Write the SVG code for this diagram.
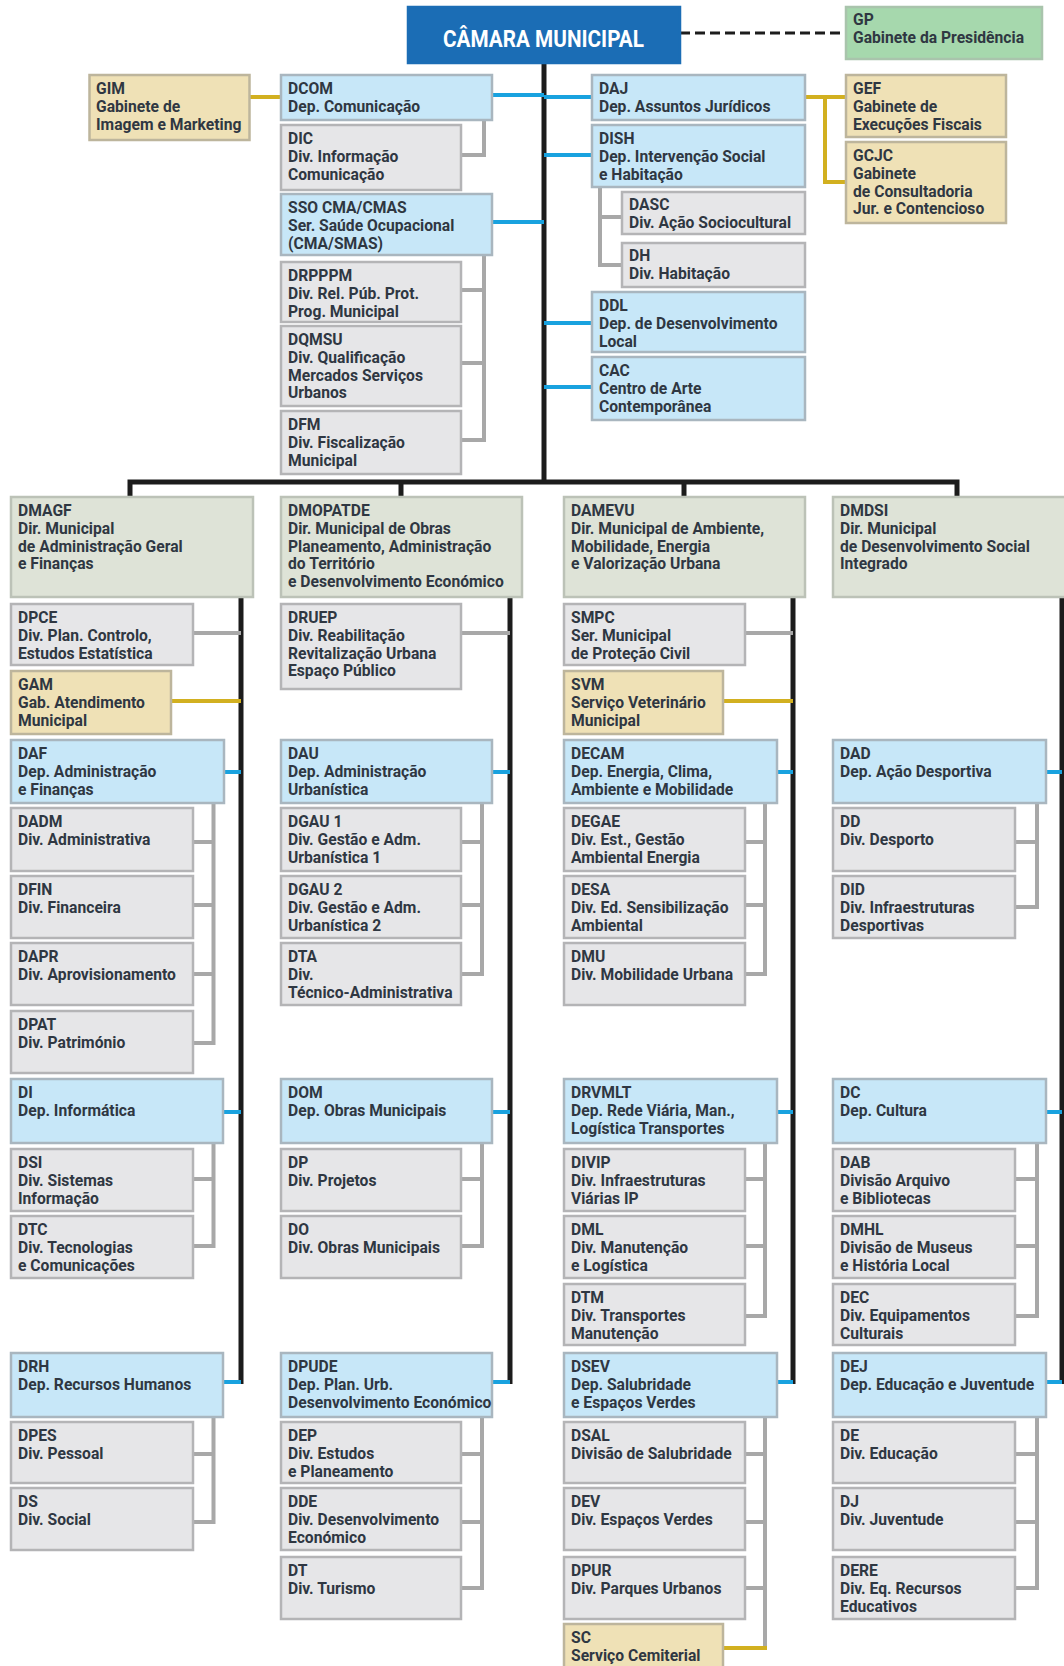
<svg xmlns="http://www.w3.org/2000/svg" width="1064" height="1666" viewBox="0 0 1064 1666">
<style>
rect{stroke-width:2.5}
.b{fill:#c7e7f8;stroke:#a9b6bf}
.g{fill:#e6e6e8;stroke:#b4b4b6}
.y{fill:#efe1b6;stroke:#bdb59c}
.d{fill:#dee3d7;stroke:#bcc2b7}
.p{fill:#a6d8ad;stroke:#a9c4ac}
.t{font-family:Roboto,"Liberation Sans",sans-serif;font-size:16.5px;font-weight:700;fill:#2f3742;transform-box:fill-box;transform-origin:0 50%;transform:scaleX(0.95)}
.k{fill:none;stroke:#1c1c1c;stroke-width:5}
.bl{fill:none;stroke:#19a2df;stroke-width:4}
.gr{fill:none;stroke:#a8a8a8;stroke-width:4}
.au{fill:none;stroke:#d2b020;stroke-width:4}
</style>
<rect width="1064" height="1666" fill="#ffffff"/>
<g id="connectors">
<path class="k" d="M544 63V482M130 497V482H957V497M401 482V497M684 482V497M241 597V1384M510 597V1384M793 597V1384M1062 597V1384"/>
<path d="M680 33H846" fill="none" stroke="#1c1c1c" stroke-width="3" stroke-dasharray="10 5"/>
<path class="bl" d="M492 95H544M492 222H544M544 97H592M544 155H592M544 323H592M544 387H592M224 772H241M223 1112H241M223 1382H241M492 772H510M492 1112H510M492 1382H510M777 772H793M777 1112H793M777 1382H793M1046 772H1062M1046 1112H1062M1046 1382H1062"/>
<path class="gr" d="M484 120V155H461M484 255V440H461M461 290H484M461 363H484M600 187V265H622M600 217H622M193 633H241M461 633H510M745 633H793M213.5 803V1043H193M193 842H213.5M193 905H213.5M193 974H213.5M482 803V974H461M461 842H482M461 905H482M765 803V974H745M745 842H765M745 905H765M1037 803V907H1015M1015 842H1037M213.5 1143V1246H193M193 1179H213.5M482 1143V1246H461M461 1179H482M765 1143V1316H745M745 1179H765M745 1246H765M1037 1143V1316H1015M1015 1179H1037M1015 1246H1037M213.5 1417V1522H193M193 1454H213.5M482 1417V1588H461M461 1454H482M461 1522H482M765 1417V1648M745 1454H765M745 1522H765M745 1588H765M1037 1417V1588H1015M1015 1454H1037M1015 1522H1037"/>
<path class="au" d="M250 97H281M805 97H846M825 97V182H846M171 701H241M723 701H793M723 1648H767"/>
</g>
<g id="CAMARA"><rect x="408" y="7" width="272" height="56" fill="#1b6db5" stroke="#1b6db5"/><text x="443" y="47" textLength="201" lengthAdjust="spacingAndGlyphs" font-family="Roboto,'Liberation Sans',sans-serif" font-size="24" font-weight="700" fill="#ffffff">CÂMARA MUNICIPAL</text></g>
<g id="GP"><rect class="p" x="846" y="7" width="196" height="52"/><text class="t" x="853" y="25"><tspan x="853">GP</tspan><tspan x="853" dy="17.8">Gabinete da Presidência</tspan></text></g>
<g id="GIM"><rect class="y" x="89.5" y="75" width="160" height="65"/><text class="t" x="96" y="94"><tspan x="96">GIM</tspan><tspan x="96" dy="17.8">Gabinete de</tspan><tspan x="96" dy="17.8">Imagem e Marketing</tspan></text></g>
<g id="DCOM"><rect class="b" x="281" y="75" width="211" height="45"/><text class="t" x="288" y="94"><tspan x="288">DCOM</tspan><tspan x="288" dy="17.8">Dep. Comunicação</tspan></text></g>
<g id="DIC"><rect class="g" x="281" y="125" width="180" height="65"/><text class="t" x="288" y="144"><tspan x="288">DIC</tspan><tspan x="288" dy="17.8">Div. Informação</tspan><tspan x="288" dy="17.8">Comunicação</tspan></text></g>
<g id="SSO"><rect class="b" x="281" y="194" width="211" height="61"/><text class="t" x="288" y="213"><tspan x="288">SSO CMA/CMAS</tspan><tspan x="288" dy="17.8">Ser. Saúde Ocupacional</tspan><tspan x="288" dy="17.8">(CMA/SMAS)</tspan></text></g>
<g id="DRPPPM"><rect class="g" x="281" y="262" width="180" height="60"/><text class="t" x="288" y="281"><tspan x="288">DRPPPM</tspan><tspan x="288" dy="17.8">Div. Rel. Púb. Prot.</tspan><tspan x="288" dy="17.8">Prog. Municipal</tspan></text></g>
<g id="DQMSU"><rect class="g" x="281" y="326" width="180" height="80"/><text class="t" x="288" y="345"><tspan x="288">DQMSU</tspan><tspan x="288" dy="17.8">Div. Qualificação</tspan><tspan x="288" dy="17.8">Mercados Serviços</tspan><tspan x="288" dy="17.8">Urbanos</tspan></text></g>
<g id="DFM"><rect class="g" x="281" y="411" width="180" height="63"/><text class="t" x="288" y="430"><tspan x="288">DFM</tspan><tspan x="288" dy="17.8">Div. Fiscalização</tspan><tspan x="288" dy="17.8">Municipal</tspan></text></g>
<g id="DAJ"><rect class="b" x="592" y="75" width="213" height="45"/><text class="t" x="599" y="94"><tspan x="599">DAJ</tspan><tspan x="599" dy="17.8">Dep. Assuntos Jurídicos</tspan></text></g>
<g id="DISH"><rect class="b" x="592" y="125" width="213" height="62"/><text class="t" x="599" y="144"><tspan x="599">DISH</tspan><tspan x="599" dy="17.8">Dep. Intervenção Social</tspan><tspan x="599" dy="17.8">e Habitação</tspan></text></g>
<g id="DASC"><rect class="g" x="622" y="192" width="183" height="42"/><text class="t" x="629" y="210"><tspan x="629">DASC</tspan><tspan x="629" dy="17.8">Div. Ação Sociocultural</tspan></text></g>
<g id="DH"><rect class="g" x="622" y="243" width="183" height="44"/><text class="t" x="629" y="261"><tspan x="629">DH</tspan><tspan x="629" dy="17.8">Div. Habitação</tspan></text></g>
<g id="DDL"><rect class="b" x="592" y="292" width="213" height="60"/><text class="t" x="599" y="311"><tspan x="599">DDL</tspan><tspan x="599" dy="17.8">Dep. de Desenvolvimento</tspan><tspan x="599" dy="17.8">Local</tspan></text></g>
<g id="CAC"><rect class="b" x="592" y="357" width="213" height="63"/><text class="t" x="599" y="376"><tspan x="599">CAC</tspan><tspan x="599" dy="17.8">Centro de Arte</tspan><tspan x="599" dy="17.8">Contemporânea</tspan></text></g>
<g id="GEF"><rect class="y" x="846" y="75" width="160" height="62"/><text class="t" x="853" y="94"><tspan x="853">GEF</tspan><tspan x="853" dy="17.8">Gabinete de</tspan><tspan x="853" dy="17.8">Execuções Fiscais</tspan></text></g>
<g id="GCJC"><rect class="y" x="846" y="142" width="160" height="81"/><text class="t" x="853" y="161"><tspan x="853">GCJC</tspan><tspan x="853" dy="17.8">Gabinete</tspan><tspan x="853" dy="17.8">de Consultadoria</tspan><tspan x="853" dy="17.8">Jur. e Contencioso</tspan></text></g>
<g id="DMAGF"><rect class="d" x="11" y="497" width="242" height="100"/><text class="t" x="18" y="516"><tspan x="18">DMAGF</tspan><tspan x="18" dy="17.8">Dir. Municipal</tspan><tspan x="18" dy="17.8">de Administração Geral</tspan><tspan x="18" dy="17.8">e Finanças</tspan></text></g>
<g id="DPCE"><rect class="g" x="11" y="604" width="182" height="61"/><text class="t" x="18" y="623"><tspan x="18">DPCE</tspan><tspan x="18" dy="17.8">Div. Plan. Controlo,</tspan><tspan x="18" dy="17.8">Estudos Estatística</tspan></text></g>
<g id="GAM"><rect class="y" x="11" y="671" width="160" height="63"/><text class="t" x="18" y="690"><tspan x="18">GAM</tspan><tspan x="18" dy="17.8">Gab. Atendimento</tspan><tspan x="18" dy="17.8">Municipal</tspan></text></g>
<g id="DAF"><rect class="b" x="11" y="740" width="213" height="63"/><text class="t" x="18" y="759"><tspan x="18">DAF</tspan><tspan x="18" dy="17.8">Dep. Administração</tspan><tspan x="18" dy="17.8">e Finanças</tspan></text></g>
<g id="DADM"><rect class="g" x="11" y="808" width="182" height="63"/><text class="t" x="18" y="827"><tspan x="18">DADM</tspan><tspan x="18" dy="17.8">Div. Administrativa</tspan></text></g>
<g id="DFIN"><rect class="g" x="11" y="876" width="182" height="62"/><text class="t" x="18" y="895"><tspan x="18">DFIN</tspan><tspan x="18" dy="17.8">Div. Financeira</tspan></text></g>
<g id="DAPR"><rect class="g" x="11" y="943" width="182" height="62"/><text class="t" x="18" y="962"><tspan x="18">DAPR</tspan><tspan x="18" dy="17.8">Div. Aprovisionamento</tspan></text></g>
<g id="DPAT"><rect class="g" x="11" y="1011" width="182" height="62"/><text class="t" x="18" y="1030"><tspan x="18">DPAT</tspan><tspan x="18" dy="17.8">Div. Património</tspan></text></g>
<g id="DI"><rect class="b" x="11" y="1079" width="212" height="64"/><text class="t" x="18" y="1098"><tspan x="18">DI</tspan><tspan x="18" dy="17.8">Dep. Informática</tspan></text></g>
<g id="DSI"><rect class="g" x="11" y="1149" width="182" height="62"/><text class="t" x="18" y="1168"><tspan x="18">DSI</tspan><tspan x="18" dy="17.8">Div. Sistemas</tspan><tspan x="18" dy="17.8">Informação</tspan></text></g>
<g id="DTC"><rect class="g" x="11" y="1216" width="182" height="62"/><text class="t" x="18" y="1235"><tspan x="18">DTC</tspan><tspan x="18" dy="17.8">Div. Tecnologias</tspan><tspan x="18" dy="17.8">e Comunicações</tspan></text></g>
<g id="DRH"><rect class="b" x="11" y="1353" width="212" height="64"/><text class="t" x="18" y="1372"><tspan x="18">DRH</tspan><tspan x="18" dy="17.8">Dep. Recursos Humanos</tspan></text></g>
<g id="DPES"><rect class="g" x="11" y="1422" width="182" height="61"/><text class="t" x="18" y="1441"><tspan x="18">DPES</tspan><tspan x="18" dy="17.8">Div. Pessoal</tspan></text></g>
<g id="DS"><rect class="g" x="11" y="1488" width="182" height="62"/><text class="t" x="18" y="1507"><tspan x="18">DS</tspan><tspan x="18" dy="17.8">Div. Social</tspan></text></g>
<g id="DMOPATDE"><rect class="d" x="281" y="497" width="241" height="100"/><text class="t" x="288" y="516"><tspan x="288">DMOPATDE</tspan><tspan x="288" dy="17.8">Dir. Municipal de Obras</tspan><tspan x="288" dy="17.8">Planeamento, Administração</tspan><tspan x="288" dy="17.8">do Território</tspan><tspan x="288" dy="17.8">e Desenvolvimento Económico</tspan></text></g>
<g id="DRUEP"><rect class="g" x="281" y="604" width="180" height="85"/><text class="t" x="288" y="623"><tspan x="288">DRUEP</tspan><tspan x="288" dy="17.8">Div. Reabilitação</tspan><tspan x="288" dy="17.8">Revitalização Urbana</tspan><tspan x="288" dy="17.8">Espaço Público</tspan></text></g>
<g id="DAU"><rect class="b" x="281" y="740" width="211" height="63"/><text class="t" x="288" y="759"><tspan x="288">DAU</tspan><tspan x="288" dy="17.8">Dep. Administração</tspan><tspan x="288" dy="17.8">Urbanística</tspan></text></g>
<g id="DGAU1"><rect class="g" x="281" y="808" width="180" height="63"/><text class="t" x="288" y="827"><tspan x="288">DGAU 1</tspan><tspan x="288" dy="17.8">Div. Gestão e Adm.</tspan><tspan x="288" dy="17.8">Urbanística 1</tspan></text></g>
<g id="DGAU2"><rect class="g" x="281" y="876" width="180" height="62"/><text class="t" x="288" y="895"><tspan x="288">DGAU 2</tspan><tspan x="288" dy="17.8">Div. Gestão e Adm.</tspan><tspan x="288" dy="17.8">Urbanística 2</tspan></text></g>
<g id="DTA"><rect class="g" x="281" y="943" width="180" height="62"/><text class="t" x="288" y="962"><tspan x="288">DTA</tspan><tspan x="288" dy="17.8">Div.</tspan><tspan x="288" dy="17.8">Técnico-Administrativa</tspan></text></g>
<g id="DOM"><rect class="b" x="281" y="1079" width="211" height="64"/><text class="t" x="288" y="1098"><tspan x="288">DOM</tspan><tspan x="288" dy="17.8">Dep. Obras Municipais</tspan></text></g>
<g id="DP"><rect class="g" x="281" y="1149" width="180" height="62"/><text class="t" x="288" y="1168"><tspan x="288">DP</tspan><tspan x="288" dy="17.8">Div. Projetos</tspan></text></g>
<g id="DO"><rect class="g" x="281" y="1216" width="180" height="62"/><text class="t" x="288" y="1235"><tspan x="288">DO</tspan><tspan x="288" dy="17.8">Div. Obras Municipais</tspan></text></g>
<g id="DPUDE"><rect class="b" x="281" y="1353" width="211" height="64"/><text class="t" x="288" y="1372"><tspan x="288">DPUDE</tspan><tspan x="288" dy="17.8">Dep. Plan. Urb.</tspan><tspan x="288" dy="17.8">Desenvolvimento Económico</tspan></text></g>
<g id="DEP"><rect class="g" x="281" y="1422" width="180" height="61"/><text class="t" x="288" y="1441"><tspan x="288">DEP</tspan><tspan x="288" dy="17.8">Div. Estudos</tspan><tspan x="288" dy="17.8">e Planeamento</tspan></text></g>
<g id="DDE"><rect class="g" x="281" y="1488" width="180" height="62"/><text class="t" x="288" y="1507"><tspan x="288">DDE</tspan><tspan x="288" dy="17.8">Div. Desenvolvimento</tspan><tspan x="288" dy="17.8">Económico</tspan></text></g>
<g id="DT"><rect class="g" x="281" y="1557" width="180" height="62"/><text class="t" x="288" y="1576"><tspan x="288">DT</tspan><tspan x="288" dy="17.8">Div. Turismo</tspan></text></g>
<g id="DAMEVU"><rect class="d" x="564" y="497" width="241" height="100"/><text class="t" x="571" y="516"><tspan x="571">DAMEVU</tspan><tspan x="571" dy="17.8">Dir. Municipal de Ambiente,</tspan><tspan x="571" dy="17.8">Mobilidade, Energia</tspan><tspan x="571" dy="17.8">e Valorização Urbana</tspan></text></g>
<g id="SMPC"><rect class="g" x="564" y="604" width="181" height="61"/><text class="t" x="571" y="623"><tspan x="571">SMPC</tspan><tspan x="571" dy="17.8">Ser. Municipal</tspan><tspan x="571" dy="17.8">de Proteção Civil</tspan></text></g>
<g id="SVM"><rect class="y" x="564" y="671" width="159" height="63"/><text class="t" x="571" y="690"><tspan x="571">SVM</tspan><tspan x="571" dy="17.8">Serviço Veterinário</tspan><tspan x="571" dy="17.8">Municipal</tspan></text></g>
<g id="DECAM"><rect class="b" x="564" y="740" width="213" height="63"/><text class="t" x="571" y="759"><tspan x="571">DECAM</tspan><tspan x="571" dy="17.8">Dep. Energia, Clima,</tspan><tspan x="571" dy="17.8">Ambiente e Mobilidade</tspan></text></g>
<g id="DEGAE"><rect class="g" x="564" y="808" width="181" height="63"/><text class="t" x="571" y="827"><tspan x="571">DEGAE</tspan><tspan x="571" dy="17.8">Div. Est., Gestão</tspan><tspan x="571" dy="17.8">Ambiental Energia</tspan></text></g>
<g id="DESA"><rect class="g" x="564" y="876" width="181" height="62"/><text class="t" x="571" y="895"><tspan x="571">DESA</tspan><tspan x="571" dy="17.8">Div. Ed. Sensibilização</tspan><tspan x="571" dy="17.8">Ambiental</tspan></text></g>
<g id="DMU"><rect class="g" x="564" y="943" width="181" height="62"/><text class="t" x="571" y="962"><tspan x="571">DMU</tspan><tspan x="571" dy="17.8">Div. Mobilidade Urbana</tspan></text></g>
<g id="DRVMLT"><rect class="b" x="564" y="1079" width="213" height="64"/><text class="t" x="571" y="1098"><tspan x="571">DRVMLT</tspan><tspan x="571" dy="17.8">Dep. Rede Viária, Man.,</tspan><tspan x="571" dy="17.8">Logística Transportes</tspan></text></g>
<g id="DIVIP"><rect class="g" x="564" y="1149" width="181" height="62"/><text class="t" x="571" y="1168"><tspan x="571">DIVIP</tspan><tspan x="571" dy="17.8">Div. Infraestruturas</tspan><tspan x="571" dy="17.8">Viárias IP</tspan></text></g>
<g id="DML"><rect class="g" x="564" y="1216" width="181" height="62"/><text class="t" x="571" y="1235"><tspan x="571">DML</tspan><tspan x="571" dy="17.8">Div. Manutenção</tspan><tspan x="571" dy="17.8">e Logística</tspan></text></g>
<g id="DTM"><rect class="g" x="564" y="1284" width="181" height="61"/><text class="t" x="571" y="1303"><tspan x="571">DTM</tspan><tspan x="571" dy="17.8">Div. Transportes</tspan><tspan x="571" dy="17.8">Manutenção</tspan></text></g>
<g id="DSEV"><rect class="b" x="564" y="1353" width="213" height="64"/><text class="t" x="571" y="1372"><tspan x="571">DSEV</tspan><tspan x="571" dy="17.8">Dep. Salubridade</tspan><tspan x="571" dy="17.8">e Espaços Verdes</tspan></text></g>
<g id="DSAL"><rect class="g" x="564" y="1422" width="181" height="61"/><text class="t" x="571" y="1441"><tspan x="571">DSAL</tspan><tspan x="571" dy="17.8">Divisão de Salubridade</tspan></text></g>
<g id="DEV"><rect class="g" x="564" y="1488" width="181" height="62"/><text class="t" x="571" y="1507"><tspan x="571">DEV</tspan><tspan x="571" dy="17.8">Div. Espaços Verdes</tspan></text></g>
<g id="DPUR"><rect class="g" x="564" y="1557" width="181" height="62"/><text class="t" x="571" y="1576"><tspan x="571">DPUR</tspan><tspan x="571" dy="17.8">Div. Parques Urbanos</tspan></text></g>
<g id="SC"><rect class="y" x="564" y="1624" width="159" height="52"/><text class="t" x="571" y="1643"><tspan x="571">SC</tspan><tspan x="571" dy="17.8">Serviço Cemiterial</tspan></text></g>
<g id="DMDSI"><rect class="d" x="833" y="497" width="240" height="100"/><text class="t" x="840" y="516"><tspan x="840">DMDSI</tspan><tspan x="840" dy="17.8">Dir. Municipal</tspan><tspan x="840" dy="17.8">de Desenvolvimento Social</tspan><tspan x="840" dy="17.8">Integrado</tspan></text></g>
<g id="DAD"><rect class="b" x="833" y="740" width="213" height="63"/><text class="t" x="840" y="759"><tspan x="840">DAD</tspan><tspan x="840" dy="17.8">Dep. Ação Desportiva</tspan></text></g>
<g id="DD"><rect class="g" x="833" y="808" width="182" height="63"/><text class="t" x="840" y="827"><tspan x="840">DD</tspan><tspan x="840" dy="17.8">Div. Desporto</tspan></text></g>
<g id="DID"><rect class="g" x="833" y="876" width="182" height="62"/><text class="t" x="840" y="895"><tspan x="840">DID</tspan><tspan x="840" dy="17.8">Div. Infraestruturas</tspan><tspan x="840" dy="17.8">Desportivas</tspan></text></g>
<g id="DC"><rect class="b" x="833" y="1079" width="213" height="64"/><text class="t" x="840" y="1098"><tspan x="840">DC</tspan><tspan x="840" dy="17.8">Dep. Cultura</tspan></text></g>
<g id="DAB"><rect class="g" x="833" y="1149" width="182" height="62"/><text class="t" x="840" y="1168"><tspan x="840">DAB</tspan><tspan x="840" dy="17.8">Divisão Arquivo</tspan><tspan x="840" dy="17.8">e Bibliotecas</tspan></text></g>
<g id="DMHL"><rect class="g" x="833" y="1216" width="182" height="62"/><text class="t" x="840" y="1235"><tspan x="840">DMHL</tspan><tspan x="840" dy="17.8">Divisão de Museus</tspan><tspan x="840" dy="17.8">e História Local</tspan></text></g>
<g id="DEC"><rect class="g" x="833" y="1284" width="182" height="61"/><text class="t" x="840" y="1303"><tspan x="840">DEC</tspan><tspan x="840" dy="17.8">Div. Equipamentos</tspan><tspan x="840" dy="17.8">Culturais</tspan></text></g>
<g id="DEJ"><rect class="b" x="833" y="1353" width="213" height="64"/><text class="t" x="840" y="1372"><tspan x="840">DEJ</tspan><tspan x="840" dy="17.8">Dep. Educação e Juventude</tspan></text></g>
<g id="DE"><rect class="g" x="833" y="1422" width="182" height="61"/><text class="t" x="840" y="1441"><tspan x="840">DE</tspan><tspan x="840" dy="17.8">Div. Educação</tspan></text></g>
<g id="DJ"><rect class="g" x="833" y="1488" width="182" height="62"/><text class="t" x="840" y="1507"><tspan x="840">DJ</tspan><tspan x="840" dy="17.8">Div. Juventude</tspan></text></g>
<g id="DERE"><rect class="g" x="833" y="1557" width="182" height="62"/><text class="t" x="840" y="1576"><tspan x="840">DERE</tspan><tspan x="840" dy="17.8">Div. Eq. Recursos</tspan><tspan x="840" dy="17.8">Educativos</tspan></text></g>
</svg>
